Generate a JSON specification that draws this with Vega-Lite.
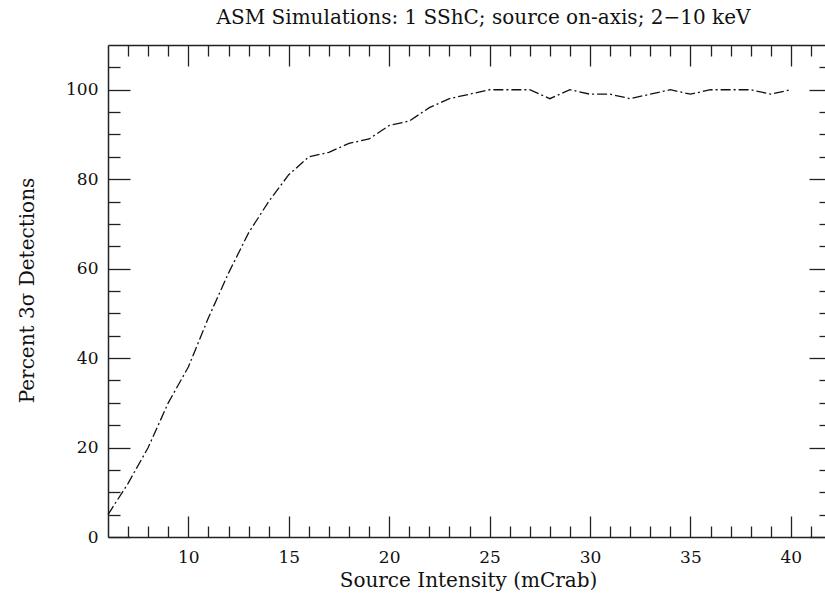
{
  "$schema": "https://vega.github.io/schema/vega-lite/v6.json",
  "width": 723,
  "height": 492,
  "autosize": {"type": "none"},
  "padding": {"left": 108, "top": 45, "right": 0, "bottom": 61},
  "background": "white",
  "title": {
    "text": "ASM Simulations: 1 SShC; source on-axis; 2−10 keV",
    "anchor": "middle",
    "frame": "group",
    "dx": 14,
    "offset": 16,
    "font": "DejaVu Serif",
    "fontSize": 20,
    "fontWeight": "normal",
    "color": "#111"
  },
  "data": {
    "values": [
      {"x": 6, "y": 5}, {"x": 7, "y": 12}, {"x": 8, "y": 20}, {"x": 9, "y": 30},
      {"x": 10, "y": 38}, {"x": 11, "y": 49}, {"x": 12, "y": 59}, {"x": 13, "y": 68},
      {"x": 14, "y": 75}, {"x": 15, "y": 81}, {"x": 16, "y": 85}, {"x": 17, "y": 86},
      {"x": 18, "y": 88}, {"x": 19, "y": 89}, {"x": 20, "y": 92}, {"x": 21, "y": 93},
      {"x": 22, "y": 96}, {"x": 23, "y": 98}, {"x": 24, "y": 99}, {"x": 25, "y": 100},
      {"x": 26, "y": 100}, {"x": 27, "y": 100}, {"x": 28, "y": 98}, {"x": 29, "y": 100},
      {"x": 30, "y": 99}, {"x": 31, "y": 99}, {"x": 32, "y": 98}, {"x": 33, "y": 99},
      {"x": 34, "y": 100}, {"x": 35, "y": 99}, {"x": 36, "y": 100}, {"x": 37, "y": 100},
      {"x": 38, "y": 100}, {"x": 39, "y": 99}, {"x": 40, "y": 100}
    ]
  },
  "config": {
    "view": {"stroke": null},
    "title": {"font": "DejaVu Serif", "fontWeight": "normal"},
    "axis": {
      "grid": false,
      "domainColor": "#222",
      "domainWidth": 1.5,
      "tickColor": "#222",
      "tickWidth": 1.3,
      "labelFont": "DejaVu Serif",
      "labelFontSize": 17,
      "labelColor": "#111",
      "titleFont": "DejaVu Serif",
      "titleFontSize": 20,
      "titleFontWeight": "normal",
      "titleColor": "#111"
    }
  },
  "resolve": {"axis": {"x": "independent", "y": "independent"}},
  "layer": [
    {
      "mark": {"type": "line", "color": "#111", "strokeWidth": 1.3, "strokeDash": [10, 3, 2, 3]},
      "encoding": {
        "x": {
          "field": "x", "type": "quantitative",
          "scale": {"domain": [6, 42], "nice": false, "zero": false},
          "axis": {
            "orient": "bottom",
            "title": "Source Intensity (mCrab)",
            "values": [10, 15, 20, 25, 30, 35, 40],
            "tickSize": -21,
            "labelPadding": 33,
            "titlePadding": 5,
            "titleX": 360
          }
        },
        "y": {
          "field": "y", "type": "quantitative",
          "scale": {"domain": [0, 110], "nice": false},
          "axis": {
            "orient": "left",
            "title": "Percent 3σ Detections",
            "values": [0, 20, 40, 60, 80, 100],
            "tickSize": -22,
            "labelPadding": 32,
            "titlePadding": 28,
            "titleY": 245
          }
        }
      }
    },
    {
      "mark": {"type": "line", "opacity": 0},
      "encoding": {
        "x": {
          "field": "x", "type": "quantitative",
          "scale": {"domain": [6, 42], "nice": false, "zero": false},
          "axis": {
            "orient": "bottom", "title": null, "labels": false, "domain": false,
            "values": [7, 8, 9, 11, 12, 13, 14, 16, 17, 18, 19, 21, 22, 23, 24, 26, 27, 28, 29, 31, 32, 33, 34, 36, 37, 38, 39, 41],
            "tickSize": -11
          }
        },
        "y": {
          "field": "y", "type": "quantitative",
          "scale": {"domain": [0, 110], "nice": false},
          "axis": {
            "orient": "left", "title": null, "labels": false, "domain": false,
            "values": [5, 10, 15, 25, 30, 35, 45, 50, 55, 65, 70, 75, 85, 90, 95, 105],
            "tickSize": -12
          }
        }
      }
    },
    {
      "mark": {"type": "line", "opacity": 0},
      "encoding": {
        "x": {
          "field": "x", "type": "quantitative",
          "scale": {"domain": [6, 42], "nice": false, "zero": false},
          "axis": {
            "orient": "top", "title": null, "labels": false,
            "values": [10, 15, 20, 25, 30, 35, 40],
            "tickSize": -21
          }
        },
        "y": {
          "field": "y", "type": "quantitative",
          "scale": {"domain": [0, 110], "nice": false},
          "axis": {
            "orient": "right", "title": null, "labels": false,
            "values": [0, 20, 40, 60, 80, 100],
            "tickSize": -22
          }
        }
      }
    },
    {
      "mark": {"type": "line", "opacity": 0},
      "encoding": {
        "x": {
          "field": "x", "type": "quantitative",
          "scale": {"domain": [6, 42], "nice": false, "zero": false},
          "axis": {
            "orient": "top", "title": null, "labels": false, "domain": false,
            "values": [7, 8, 9, 11, 12, 13, 14, 16, 17, 18, 19, 21, 22, 23, 24, 26, 27, 28, 29, 31, 32, 33, 34, 36, 37, 38, 39, 41],
            "tickSize": -11
          }
        },
        "y": {
          "field": "y", "type": "quantitative",
          "scale": {"domain": [0, 110], "nice": false},
          "axis": {
            "orient": "right", "title": null, "labels": false, "domain": false,
            "values": [5, 10, 15, 25, 30, 35, 45, 50, 55, 65, 70, 75, 85, 90, 95, 105],
            "tickSize": -12
          }
        }
      }
    }
  ]
}
